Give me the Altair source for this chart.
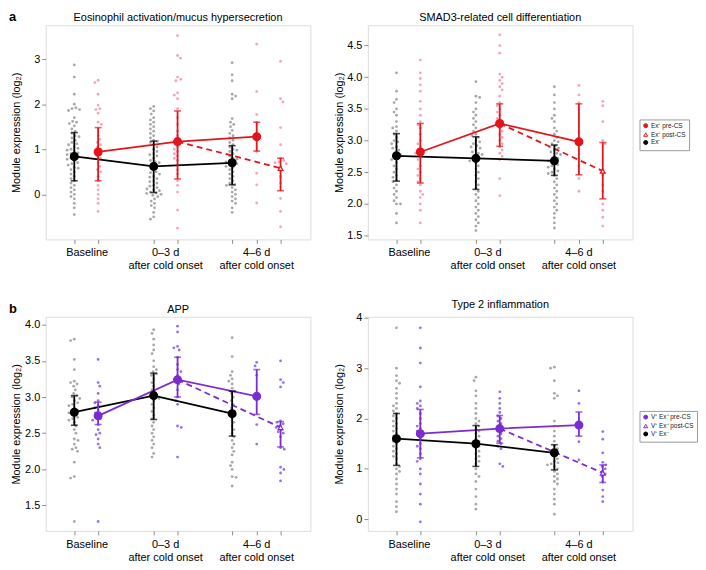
import altair as alt
import pandas as pd
import numpy as np

FONT = "Liberation Sans"
W, H = 267, 216
X_DOMAIN = [0, 11.1]
X_POS = [1.2, 2.2, 4.53, 5.53, 7.82, 8.85, 9.85]
KINDS = ["neg", "pre", "neg", "pre", "neg", "pre", "post"]
LABEL_X = [1.74, 5.03, 8.85]
LABEL_TEXT = ["Baseline", "0–3 d\nafter cold onset", "4–6 d\nafter cold onset"]
LINES = [("neg", [0, 2, 4], 0), ("pre", [1, 3, 5], 0), ("post", [3, 6], 1)]

# ---------------- panel a, left: Eosinophil activation ----------------
eos_raw = [
    [2.87, 2.6, 2.22, 2.0, 1.92, 1.9, 1.88, 1.86, 1.7, 1.62, 1.6, 1.57, 1.52, 1.45, 1.4, 1.35, 1.3, 1.28, 1.25,
     1.2, 1.15, 1.12, 1.1, 1.05, 1.02, 1.0, 0.98, 0.95, 0.92, 0.9, 0.88, 0.85, 0.82, 0.8, 0.78, 0.75, 0.7, 0.68,
     0.65, 0.6, 0.58, 0.55, 0.5, 0.45, 0.4, 0.35, 0.3, 0.25, 0.2, 0.15, 0.1, 0.05, 0.0, -0.05, -0.1, -0.2, -0.3, -0.45],
    [2.53, 2.48, 2.22, 1.98, 1.9, 1.88, 1.8, 1.6, 1.55, 1.3, 1.22, 1.15, 1.1, 1.05, 1.0, 0.95, 0.9, 0.85, 0.8, 0.7,
     0.62, 0.55, 0.5, 0.4, 0.3, 0.2, 0.1, 0.0, -0.1, -0.2, -0.38],
    [1.95, 1.9, 1.85, 1.78, 1.7, 1.65, 1.6, 1.55, 1.5, 1.45, 1.4, 1.35, 1.3, 1.25, 1.2, 1.18, 1.15, 1.1, 1.05, 1.0,
     0.95, 0.9, 0.88, 0.85, 0.8, 0.75, 0.72, 0.7, 0.65, 0.6, 0.55, 0.5, 0.48, 0.45, 0.4, 0.38, 0.35, 0.3, 0.28, 0.25,
     0.2, 0.18, 0.15, 0.12, 0.1, 0.08, 0.05, 0.03, 0.02, 0.0, -0.02, -0.05, -0.1, -0.15, -0.2, -0.25, -0.3, -0.4,
     -0.5, -0.55],
    [3.52, 3.08, 3.02, 2.6, 2.55, 2.52, 2.25, 2.2, 2.12, 1.9, 1.7, 1.55, 1.4, 1.3, 1.2, 1.15, 1.05, 1.0, 0.95, 0.9,
     0.85, 0.8, 0.75, 0.65, 0.55, 0.45, 0.3, 0.2, 0.05, -0.35, -0.75],
    [2.92, 2.65, 2.52, 2.22, 2.18, 2.12, 1.68, 1.6, 1.55, 1.5, 1.42, 1.35, 1.3, 1.25, 1.2, 1.15, 1.1, 1.05, 1.0,
     0.98, 0.95, 0.9, 0.85, 0.8, 0.78, 0.75, 0.72, 0.7, 0.68, 0.65, 0.62, 0.6, 0.55, 0.5, 0.45, 0.4, 0.35, 0.3,
     0.25, 0.22, 0.2, 0.15, 0.1, 0.05, 0.0, -0.05, -0.1, -0.15, -0.2, -0.3, -0.4],
    [3.33, 2.28, 1.77, 1.6, 1.35, 1.2, 0.95, 0.47, 0.21, -0.19],
    [2.95, 2.12, 2.05, 1.48, 1.1, 0.8, 0.75, 0.72, 0.7, 0.68, 0.6, 0.4, 0.25, -0.09, -0.38, -0.72],
]
eos_mean = [0.84, 0.94, 0.62, 1.17, 0.70, 1.28, 0.58]
eos_lo = [0.30, 0.30, 0.04, 0.34, 0.21, 0.96, 0.08]
eos_hi = [1.37, 1.48, 1.18, 1.85, 1.08, 1.60, 0.80]

# ---------------- panel a, right: SMAD3 ----------------
smad_raw = [
    [4.07, 3.78, 3.65, 3.6, 3.5, 3.45, 3.4, 3.3, 3.22, 3.2, 3.15, 3.1, 3.05, 3.0, 2.98, 2.95, 2.9, 2.88, 2.85, 2.8,
     2.78, 2.75, 2.72, 2.7, 2.65, 2.6, 2.55, 2.5, 2.45, 2.42, 2.38, 2.35, 2.3, 2.25, 2.2, 2.15, 2.1, 2.05, 2.0, 2.0,
     1.85, 1.7],
    [4.27, 4.07, 3.98, 3.88, 3.78, 3.62, 3.5, 3.4, 3.3, 3.25, 3.2, 3.1, 3.0, 2.95, 2.9, 2.85, 2.82, 2.8, 2.75, 2.7,
     2.6, 2.55, 2.5, 2.45, 2.4, 2.35, 2.3, 2.2, 2.15, 2.1, 2.0, 1.9, 1.7],
    [3.93, 3.7, 3.68, 3.6, 3.5, 3.45, 3.4, 3.35, 3.3, 3.25, 3.2, 3.15, 3.1, 3.08, 3.05, 3.0, 2.98, 2.95, 2.92, 2.9,
     2.88, 2.85, 2.82, 2.8, 2.78, 2.75, 2.72, 2.7, 2.68, 2.65, 2.6, 2.55, 2.5, 2.45, 2.4, 2.35, 2.3, 2.25, 2.2, 2.15,
     2.1, 2.05, 2.0, 1.95, 1.9, 1.85, 1.8, 1.75, 1.7, 1.65, 1.58],
    [4.67, 4.5, 4.38, 4.05, 4.0, 3.95, 3.9, 3.85, 3.8, 3.7, 3.6, 3.55, 3.5, 3.45, 3.4, 3.35, 3.3, 3.28, 3.25, 3.2,
     3.15, 3.1, 3.05, 3.0, 2.95, 2.9, 2.85, 2.8, 2.75, 2.7, 2.4, 2.13],
    [3.85, 3.72, 3.6, 3.5, 3.4, 3.35, 3.3, 3.2, 3.15, 3.1, 3.05, 3.0, 2.98, 2.95, 2.92, 2.9, 2.88, 2.85, 2.82, 2.8,
     2.78, 2.75, 2.72, 2.7, 2.68, 2.65, 2.62, 2.6, 2.58, 2.55, 2.52, 2.5, 2.48, 2.45, 2.4, 2.35, 2.3, 2.25, 2.2,
     2.15, 2.1, 2.05, 2.0, 1.95, 1.9, 1.85, 1.78, 1.7, 1.62],
    [3.87, 3.72, 3.6, 2.6, 2.4, 2.2],
    [3.62, 3.55, 3.3, 3.0, 2.95, 2.45, 2.3, 2.2, 2.0, 1.9, 1.79, 1.65],
]
smad_mean = [2.76, 2.82, 2.72, 3.27, 2.68, 2.98, 2.52]
smad_lo = [2.36, 2.33, 2.23, 2.91, 2.45, 2.46, 2.08]
smad_hi = [3.11, 3.27, 3.06, 3.58, 2.93, 3.58, 2.97]

# ---------------- panel b, left: APP ----------------
app_raw = [
    [3.8, 3.78, 3.52, 3.38, 3.22, 3.2, 3.18, 3.15, 3.1, 3.05, 3.02, 3.0, 2.98, 2.95, 2.92, 2.9, 2.88, 2.85, 2.82,
     2.8, 2.78, 2.75, 2.72, 2.7, 2.68, 2.65, 2.6, 2.55, 2.5, 2.42, 2.4, 2.35, 2.3, 2.28, 2.25, 2.1, 1.9, 1.88, 1.28],
    [3.52, 3.2, 3.15, 3.05, 2.95, 2.92, 2.88, 2.85, 2.82, 2.78, 2.75, 2.72, 2.7, 2.68, 2.62, 2.55, 2.5, 2.48, 2.42,
     2.35, 2.3, 1.28],
    [3.93, 3.88, 3.8, 3.72, 3.65, 3.6, 3.5, 3.42, 3.38, 3.35, 3.32, 3.3, 3.25, 3.2, 3.15, 3.1, 3.05, 3.02, 3.0, 2.98,
     2.95, 2.9, 2.85, 2.8, 2.75, 2.7, 2.65, 2.6, 2.55, 2.5, 2.45, 2.4, 2.35, 2.3, 2.22, 2.17],
    [3.98, 3.9, 3.7, 3.68, 3.65, 3.55, 3.45, 3.38, 3.35, 3.3, 3.25, 3.22, 3.18, 3.1, 3.0, 2.95, 2.9, 2.6, 2.58, 2.17],
    [3.82, 3.56, 3.35, 3.3, 3.25, 3.22, 3.18, 3.12, 3.08, 3.05, 3.0, 2.95, 2.9, 2.85, 2.8, 2.78, 2.75, 2.7, 2.65,
     2.6, 2.55, 2.5, 2.45, 2.4, 2.35, 2.3, 2.25, 2.2, 2.1, 2.05, 2.0, 1.9, 1.89, 1.77],
    [3.48, 3.43, 3.3, 2.62, 2.35],
    [3.5, 3.24, 3.2, 3.14, 2.67, 2.65, 2.63, 2.6, 2.58, 2.55, 2.52, 2.5, 2.45, 2.3, 2.28, 2.03, 2.0, 1.95, 1.84],
]
app_mean = [2.79, 2.74, 3.02, 3.24, 2.77, 3.01, 2.58]
app_lo = [2.61, 2.62, 2.69, 3.00, 2.46, 2.76, 2.31]
app_hi = [3.02, 2.93, 3.33, 3.55, 3.08, 3.38, 2.66]

# ---------------- panel b, right: Type 2 inflammation ----------------
t2_raw = [
    [3.8, 3.0, 2.85, 2.75, 2.7, 2.6, 2.5, 2.4, 2.3, 2.25, 2.2, 2.15, 2.1, 2.05, 2.0, 1.95, 1.9, 1.85, 1.8, 1.75, 1.7,
     1.65, 1.6, 1.55, 1.5, 1.45, 1.4, 1.35, 1.3, 1.25, 1.2, 1.1, 1.05, 1.0, 0.95, 0.9, 0.8, 0.7, 0.6, 0.5, 0.35,
     0.25, 0.15],
    [3.8, 3.4, 3.1, 2.63, 2.35, 2.3, 2.25, 2.2, 2.1, 2.0, 1.9, 1.85, 1.8, 1.75, 1.7, 1.6, 1.5, 1.45, 1.4, 1.3, 1.2,
     1.15, 1.0, 0.9, 0.7, 0.5, 0.3, -0.05],
    [2.82, 2.75, 2.55, 2.45, 2.3, 2.2, 2.1, 2.0, 1.95, 1.9, 1.85, 1.8, 1.75, 1.7, 1.65, 1.6, 1.55, 1.5, 1.45, 1.4,
     1.35, 1.3, 1.25, 1.2, 1.15, 1.1, 1.0, 0.9, 0.85, 0.75, 0.6, 0.45, 0.3, 0.2],
    [2.53, 2.4, 2.3, 2.2, 2.12, 2.05, 2.0, 1.95, 1.9, 1.85, 1.8, 1.75, 1.7, 1.65, 1.6, 1.55, 1.5, 1.45, 1.4, 1.1, 1.05],
    [3.02, 3.0, 2.75, 2.5, 2.45, 2.4, 1.95, 1.85, 1.75, 1.65, 1.55, 1.45, 1.4, 1.35, 1.3, 1.25, 1.2, 1.15, 1.12,
     1.1, 1.08, 1.05, 1.0, 0.95, 0.9, 0.85, 0.8, 0.75, 0.7, 0.6, 0.5, 0.4, 0.3, 0.1],
    [2.55, 2.3, 1.54, 1.18],
    [1.74, 1.59, 1.32, 1.13, 1.08, 1.05, 1.0, 0.95, 0.9, 0.85, 0.74, 0.58, 0.45, 0.35],
]
t2_mean = [1.60, 1.70, 1.50, 1.80, 1.32, 1.87, 0.92]
t2_lo = [1.07, 1.22, 1.05, 1.51, 0.98, 1.65, 0.73]
t2_hi = [2.10, 2.18, 1.86, 2.06, 1.48, 2.13, 1.08]

TOP_NAMES = ["Ex⁺ pre-CS", "Ex⁺ post-CS", "Ex⁻"]
BOT_NAMES = ["V⁺ Ex⁺ pre-CS", "V⁺ Ex⁺ post-CS", "V⁺ Ex⁻"]

RED, PINK = "#e3151b", "#f5a5b5"
PURPLE, LILAC = "#7b2cd0", "#9b70ec"
BLACK, GRAY = "#000000", "#a8a8a8"

TAG_Y = -14


def swarm_offsets(vals, ppu_y, d=4.0):
    """Beeswarm layout (pixel offsets), returned in data x-units."""
    ppu_x = W / (X_DOMAIN[1] - X_DOMAIN[0])
    order = np.argsort(-np.asarray(vals))
    placed = []
    out = [0.0] * len(vals)
    for n, i in enumerate(order):
        y = vals[i] * ppu_y
        cands = [0.0]
        near = [(px, py) for px, py in placed if abs(py - y) < d]
        for px, py in near:
            w = np.sqrt(max(d * d - (py - y) ** 2, 0.0))
            cands += [px + w + 0.01, px - w - 0.01]
        good = [c for c in cands if all((c - px) ** 2 + (y - py) ** 2 >= d * d * 0.98 for px, py in near)]
        sgn = 1 if n % 2 == 0 else -1
        good.sort(key=lambda c: (round(abs(c), 3), -sgn * c))
        c = good[0]
        placed.append((c, y))
        out[i] = c / ppu_x
    return out


def panel(raw, mean, lo, hi, title, ydom, yticks, yfmt, main_col, dot_col, names, show_legend, tag):
    ppu_y = H / (ydom[1] - ydom[0])
    rows = []
    for i, vals in enumerate(raw):
        offs = swarm_offsets(vals, ppu_y)
        dc = GRAY if KINDS[i] == "neg" else dot_col
        for v, o in zip(vals, offs):
            rows.append({"x": X_POS[i] + o, "v": v, "dc": dc})
    df_raw = pd.DataFrame(rows)

    kind_name = {"pre": names[0], "post": names[1], "neg": names[2]}
    kind_col = {"pre": main_col, "post": main_col, "neg": BLACK}
    df_m = pd.DataFrame({
        "x": X_POS, "v": mean, "lo": lo, "hi": hi,
        "grp": [kind_name[k] for k in KINDS],
        "lc": [kind_col[k] for k in KINDS],
        "kind": KINDS,
    })
    lrows = []
    for lname, idx, dash in LINES:
        col = BLACK if lname == "neg" else main_col
        for j in idx:
            lrows.append({"x": X_POS[j], "v": mean[j], "line": lname, "lc": col, "dash": dash})
    df_l = pd.DataFrame(lrows)
    df_lab = pd.DataFrame({"x": LABEL_X, "t": LABEL_TEXT})

    xs = alt.Scale(domain=X_DOMAIN, nice=False, zero=False)
    xa = alt.Axis(values=X_POS, labels=False, title=None, tickSize=4, grid=False, domain=False,
                  tickColor="#8c8c8c")
    ys = alt.Scale(domain=ydom, nice=False, zero=False)
    ya = alt.Axis(values=yticks, format=yfmt, title="Module expression (log₂)", grid=False, domain=False,
                  tickSize=4, tickColor="#8c8c8c", labelFontSize=11, titleFontSize=11,
                  titleFontWeight="normal", labelPadding=2, titlePadding=2, minExtent=22, maxExtent=22,
                  labelFont=FONT, titleFont=FONT, labelColor="black", titleColor="black")

    def X():
        return alt.X("x:Q", scale=xs, axis=xa)

    def Y(f):
        return alt.Y(f"{f}:Q", scale=ys, axis=ya)

    dom = names
    if show_legend:
        leg = alt.Legend(title=None, orient="none", legendX=W + 7, legendY=95, labelFontSize=6.5,
                         labelFont=FONT, symbolSize=16, padding=3, strokeColor="#9a9a9a",
                         fillColor="white", rowPadding=0, symbolStrokeWidth=1, labelOffset=2,
                         labelColor="#222")
    else:
        leg = None
    fill_sc = alt.Scale(domain=dom, range=[main_col, "white", BLACK])
    stroke_sc = alt.Scale(domain=dom, range=[main_col, main_col, BLACK])
    shape_sc = alt.Scale(domain=dom, range=["circle", "triangle-up", "circle"])

    dots = alt.Chart(df_raw).mark_circle(size=8, opacity=1).encode(
        x=X(), y=Y("v"), color=alt.Color("dc:N", scale=None))
    base_l = alt.Chart(df_l)
    solid = base_l.mark_line(strokeWidth=1.8).encode(
        x=X(), y=Y("v"), detail="line:N", color=alt.Color("lc:N", scale=None)
    ).transform_filter("datum.dash == 0")
    dashed = base_l.mark_line(strokeWidth=1.8, strokeDash=[6, 4]).encode(
        x=X(), y=Y("v"), detail="line:N", color=alt.Color("lc:N", scale=None)
    ).transform_filter("datum.dash == 1")
    rule = alt.Chart(df_m).mark_rule(strokeWidth=1.8).encode(
        x=X(), y=Y("lo"), y2="hi:Q", color=alt.Color("lc:N", scale=None))
    caps = alt.Chart(df_m).transform_fold(["lo", "hi"], as_=["which", "capv"]).mark_tick(
        orient="horizontal", size=7, thickness=1.6).encode(
        x=X(), y=Y("capv"), color=alt.Color("lc:N", scale=None))

    def pts(filt, size):
        return alt.Chart(df_m).transform_filter(filt).mark_point(
            size=size, opacity=1, fillOpacity=1, strokeWidth=1.2).encode(
            x=X(), y=Y("v"),
            fill=alt.Fill("grp:N", scale=fill_sc, legend=leg),
            stroke=alt.Stroke("grp:N", scale=stroke_sc, legend=leg),
            shape=alt.Shape("grp:N", scale=shape_sc, legend=leg),
        )

    circ = pts("datum.kind != 'post'", 62)
    tri = pts("datum.kind == 'post'", 24)
    labs = alt.Chart(df_lab).mark_text(baseline="top", fontSize=11, lineBreak="\n", lineHeight=13,
                                       font=FONT, color="black").encode(
        x=X(), y=alt.value(H + 8), text="t:N")
    layers = [dots, solid, dashed, rule, caps, circ, tri, labs]
    offset = 2
    if tag:
        tg = alt.Chart(pd.DataFrame({"t": [tag]})).mark_text(
            fontSize=13, fontWeight="bold", font=FONT, align="left", baseline="top", color="black").encode(
            x=alt.value(-37), y=alt.value(TAG_Y), text="t:N")
        layers.append(tg)
        offset = 2 + TAG_Y  # title offset is measured from the tag's top
    return alt.layer(*layers).properties(
        width=W, height=H,
        title=alt.TitleParams(title, fontSize=11, fontWeight="normal", font=FONT, offset=offset,
                              anchor="middle", color="black", frame="group"))


p1 = panel(eos_raw, eos_mean, eos_lo, eos_hi, "Eosinophil activation/mucus hypersecretion",
           [-1.0, 3.75], [0, 1, 2, 3], "d", RED, PINK, TOP_NAMES, False, "a")
p2 = panel(smad_raw, smad_mean, smad_lo, smad_hi, "SMAD3-related cell differentiation",
           [1.44, 4.82], [1.5, 2.0, 2.5, 3.0, 3.5, 4.0, 4.5], ".1f", RED, PINK, TOP_NAMES, True, None)
p3 = panel(app_raw, app_mean, app_lo, app_hi, "APP",
           [1.15, 4.11], [1.5, 2.0, 2.5, 3.0, 3.5, 4.0], ".1f", PURPLE, LILAC, BOT_NAMES, False, "b")
p4 = panel(t2_raw, t2_mean, t2_lo, t2_hi, "Type 2 inflammation",
           [-0.23, 4.02], [0, 1, 2, 3, 4], "d", PURPLE, LILAC, BOT_NAMES, True, None)

IND = dict(x="independent", y="independent", fill="independent", stroke="independent",
           shape="independent", color="independent")
row1 = alt.hconcat(p1, p2, spacing=21).resolve_scale(**IND)
row2 = alt.hconcat(p3, p4, spacing=21).resolve_scale(**IND)
chart = alt.vconcat(row1, row2, spacing=26).resolve_scale(**IND).properties(padding=0).configure_view(
    stroke="#a0a0a0", strokeWidth=1).configure(background="white")

chart.save("out.html", embed_options={"renderer": "svg", "actions": False})
